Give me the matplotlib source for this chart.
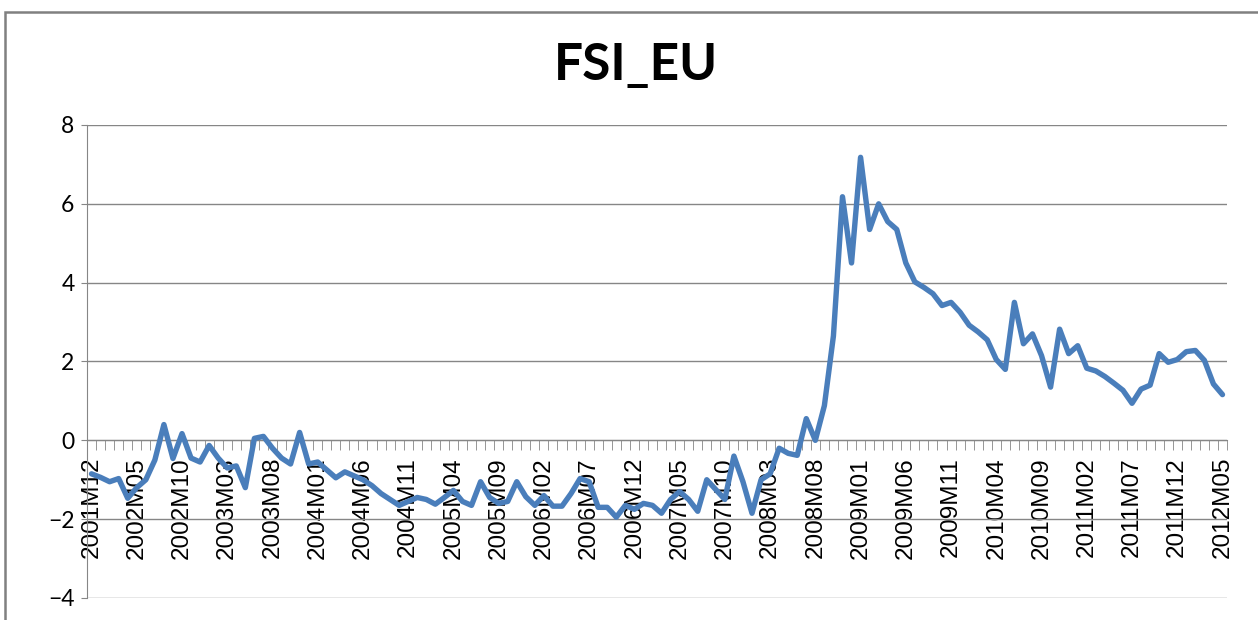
import matplotlib
matplotlib.use("Agg")
import matplotlib.pyplot as plt
from matplotlib.patches import Rectangle

# months 2001M12 .. 2012M05
months = []
y, m = 2001, 12
while (y, m) <= (2012, 5):
    months.append("%dM%02d" % (y, m))
    m += 1
    if m > 12:
        m = 1
        y += 1

# FSI_EU values
fsi = [-0.85, -0.94, -1.05, -0.97, -1.47, -1.2, -1.0, -0.5, 0.4, -0.46,
       0.17, -0.45, -0.55, -0.13, -0.45, -0.7, -0.65, -1.2, 0.05, 0.1,
       -0.2, -0.45, -0.6, 0.2, -0.6, -0.55, -0.75, -0.95, -0.8, -0.9,
       -1.0, -1.15, -1.35, -1.5, -1.65, -1.55, -1.45, -1.5, -1.62, -1.45,
       -1.27, -1.55, -1.65, -1.05, -1.45, -1.6, -1.55, -1.05, -1.43, -1.65,
       -1.4, -1.67, -1.67, -1.35, -0.97, -1.05, -1.7, -1.7, -1.95, -1.65,
       -1.75, -1.6, -1.65, -1.85, -1.5, -1.3, -1.5, -1.8, -1.0, -1.25,
       -1.5, -0.4, -1.05, -1.85, -1.0, -0.85, -0.2, -0.33, -0.38, 0.55,
       0.0, 0.88, 2.65, 6.18, 4.5, 7.18, 5.35, 6.0, 5.55, 5.35,
       4.5, 4.02, 3.88, 3.72, 3.42, 3.5, 3.25, 2.92, 2.75, 2.55,
       2.05, 1.8, 3.5, 2.45, 2.7, 2.15, 1.35, 2.82, 2.2, 2.4,
       1.83, 1.76, 1.62, 1.45, 1.27, 0.94, 1.3, 1.4, 2.2, 1.98,
       2.05, 2.25, 2.28, 2.03, 1.43, 1.16]

W, H = 1258, 620
grey = '#868686'

fig = plt.figure(figsize=(W / 100, H / 100), dpi=100)
ax = fig.add_axes([87 / W, 1 - 598 / H, (1227 - 87) / W, (598 - 125) / H])

x = list(range(len(fsi)))
ax.plot(x, fsi, color='#4A7EBB', lw=3.9, solid_joinstyle='round',
        solid_capstyle='round', zorder=3)

ax.set_xlim(-0.5, len(fsi) - 0.5)
ax.set_ylim(-4, 8)
ax.set_yticks(range(-4, 9, 2))
ax.yaxis.grid(True, color=grey, lw=1)
ax.set_axisbelow(True)

for s in ['top', 'right']:
    ax.spines[s].set_visible(False)
ax.spines['bottom'].set_position(('data', 0))
ax.spines['bottom'].set_color(grey)
ax.spines['left'].set_color(grey)

ax.set_xticks(x[::5])
ax.set_xticklabels(months[::5], rotation=90, fontfamily='Liberation Sans',
                   fontsize=17.5)
ax.set_xticks([i - 0.5 for i in range(len(fsi) + 1)], minor=True)
ax.tick_params(axis='x', which='major', length=0, pad=12)
ax.tick_params(axis='x', which='minor', length=7, color=grey)
ax.tick_params(axis='y', length=4, color=grey, pad=5, labelsize=16.5)
for t in ax.get_yticklabels():
    t.set_fontfamily('Lato')

fig.text(636 / W, 1 - 65 / H, 'FSI_EU', ha='center', va='center',
         fontsize=37, fontweight='bold', fontfamily='Lato')

# outer chart frame (cut off at right and bottom)
fig.add_artist(Rectangle((5 / W, -0.1), 2, 1.1 - 12 / H,
                         transform=fig.transFigure, fill=False,
                         ec='#808080', lw=1.8))

fig.savefig('out.png', dpi=100)
